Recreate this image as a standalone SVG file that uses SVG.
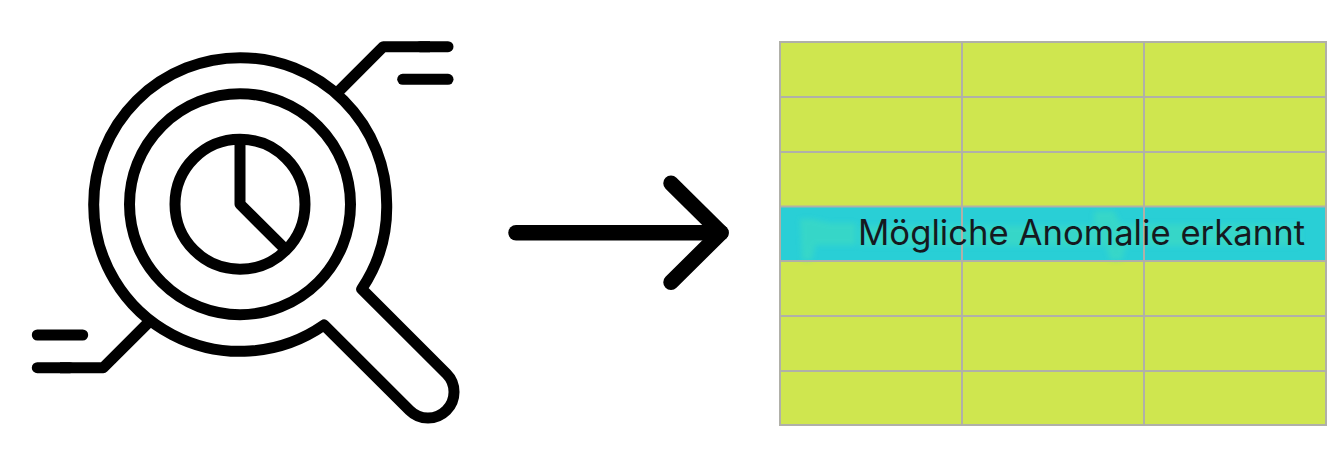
<svg xmlns="http://www.w3.org/2000/svg" width="1338" height="450" viewBox="0 0 1338 450">
<style>
.k{fill:none;stroke:#000;stroke-width:11;stroke-linecap:round;stroke-linejoin:round}
.g{fill:none;stroke:#b0b0a8;stroke-width:2}
.a{fill:none;stroke:#000;stroke-width:15.5;stroke-linecap:round;stroke-linejoin:round}
text{font-family:"Inter","Liberation Sans",sans-serif;font-size:34.7px;fill:#15191f}
</style>
<defs><filter id="b" x="-30%" y="-30%" width="160%" height="160%"><feGaussianBlur stdDeviation="2.5"/></filter></defs>
<rect width="1338" height="450" fill="#fff"/>
<g id="lupe">
<circle class="k" cx="240" cy="204.2" r="110.5"/>
<circle class="k" cx="240" cy="204.2" r="65"/>
<path class="k" d="M240 142V204.2L283 247"/>
<path class="k" d="M361.7 289L446.4 373.6A26 26 0 0 1 409.6 410.4L324 325A146.5 146.5 0 0 1 93.7 204.2A146.5 146.5 0 0 1 386.7 204.2A146.5 146.5 0 0 1 361.7 289Z"/>
<path class="k" style="stroke-linecap:butt" d="M339 91L383.3 46.7H430"/>
<path class="k" d="M448 46.7H420"/>
<path class="k" d="M402.7 79.3H448"/>
<path class="k" style="stroke-linecap:butt" d="M150 321L103.3 367.7H60"/>
<path class="k" d="M37.3 367.7H70"/>
<path class="k" d="M37.3 335H82.7"/>
</g>
<g id="connectors">
<path class="a" d="M516 232.7H721"/>
<path class="a" d="M671 183.3L721 232.7L671 282.3"/>
</g>
<g id="tabelle">
<rect x="780" y="42" width="546" height="383" fill="#cfe64f"/>
<rect x="780" y="206" width="546" height="55" fill="#29cfd6"/>
<g fill="#3fdcc0" opacity=".6" filter="url(#b)">
<path d="M800 219H812L830 223H856V245H816L812 260H802Z"/>
<path d="M860 226H1094V211H1114L1120 224H1300V246H1126L1122 260H1110L1106 246H860Z"/>
</g>
<path class="g" d="M780 42H1326V425H780ZM780 97H1326M780 152H1326M780 206.500H1326M780 261H1326M780 316H1326M780 371H1326M962 42V425M1144 42V425"/>
<text x="858" y="244.500">Mögliche Anomalie erkannt</text>
</g>
</svg>
